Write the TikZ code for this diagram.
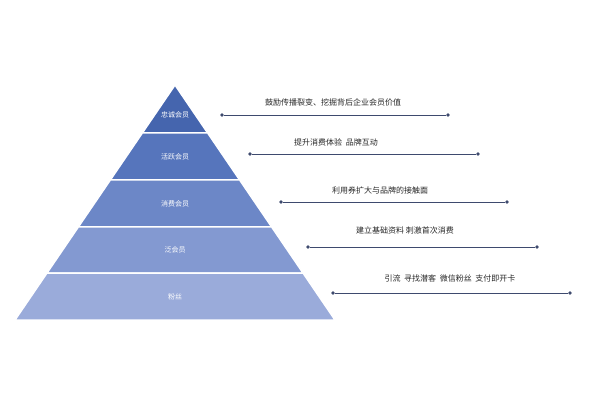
\documentclass[tikz,border=0pt]{standalone}
\usepackage{fontspec}
\newfontfamily\cjk{Noto Sans CJK SC}
\usetikzlibrary{calc}
\definecolor{lvA}{HTML}{4565AE}
\definecolor{lvB}{HTML}{5675BC}
\definecolor{lvC}{HTML}{6C87C7}
\definecolor{lvD}{HTML}{8399D1}
\definecolor{lvE}{HTML}{9AABDA}
\definecolor{lineC}{HTML}{3E4A6E}
\tikzset{
  band/.style={fill=#1, draw=white, line width=1.5pt},
  lvlabel/.style={font=\cjk\fontsize{7}{8}\selectfont, text=white},
  note/.style={font=\cjk\fontsize{8}{9}\selectfont, text=black!85},
  dot/.style={circle, fill=lineC, inner sep=1.4pt},
}
\begin{document}
\begin{tikzpicture}[x=1pt,y=-1pt]
\useasboundingbox (0,0) rectangle (600,400);
\coordinate (apex) at (175,85);
\coordinate (bl) at (15,320);
\coordinate (br) at (335,320);

% pyramid bands
\foreach \ta/\tb/\col in {0/0.204/lvA, 0.204/0.404/lvB, 0.404/0.604/lvC, 0.604/0.8/lvD, 0.8/1/lvE}{
  \path[band=\col] ($(apex)!\ta!(bl)$) -- ($(apex)!\tb!(bl)$) -- ($(apex)!\tb!(br)$) -- ($(apex)!\ta!(br)$) -- cycle;
}

\node[lvlabel] (l1) at (175,115) {忠诚会员};
\node[lvlabel] (l2) at (175,157) {活跃会员};
\node[lvlabel] (l3) at (175,204) {消费会员};
\node[lvlabel] (l4) at (175,250) {泛会员};
\node[lvlabel] (l5) at (175,297) {粉丝};

% connectors
\node[dot] (a1) at (222,115) {};
\node[dot] (b1) at (448,115) {};
\node[dot] (a2) at (250,154) {};
\node[dot] (b2) at (478,154) {};
\node[dot] (a3) at (281,202) {};
\node[dot] (b3) at (507,202) {};
\node[dot] (a4) at (308,247) {};
\node[dot] (b4) at (537,247) {};
\node[dot] (a5) at (333,293) {};
\node[dot] (b5) at (570,293) {};
\foreach \i in {1,...,5}{
  \draw[lineC, line width=1pt] (a\i) -- (b\i);
}

\node[note] (n1) at (333,102) {鼓励传播裂变、挖掘背后企业会员价值};
\node[note] (n2) at (336,142) {提升消费体验\ \ 品牌互动};
\node[note] (n3) at (380,190) {利用券扩大与品牌的接触面};
\node[note] (n4) at (405,230) {建立基础资料\ 刺激首次消费};
\node[note] (n5) at (450,278) {引流\ \ 寻找潜客\ \ 微信粉丝\ \ 支付即开卡};
\end{tikzpicture}
\end{document}
